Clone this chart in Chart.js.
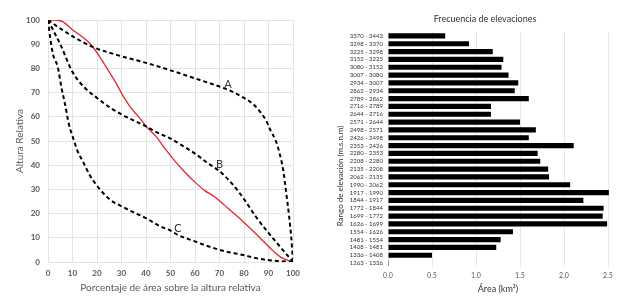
<!DOCTYPE html>
<html><head><meta charset="utf-8">
<script src="https://cdn.jsdelivr.net/npm/chart.js@4"></script>
<style>
html,body{margin:0;padding:0;background:#fff;overflow:hidden;}
#l{position:absolute;left:0;top:0;width:312px;height:307px;}
#r{position:absolute;left:320px;top:0;width:304px;height:307px;}
</style></head><body>
<div id="l"><canvas id="c1"></canvas></div>
<div id="r"><canvas id="c2"></canvas></div>
<script>
// ---- Left chart data (hypsometric curves) ----
const curveA = [[0,100],[5,96.5],[10,93.3],[18,89],[30,85],[41,82],[50,79.2],[62,75.2],[70,72.5],[75,70.5],[80,67.8],[84,65],[87,61.5],[89,58.5],[91,54],[93,50],[94.5,45],[96,38],[97.3,28],[98.4,19],[99.3,10],[100,0]];
const curveB = [[0,100],[2.5,95],[5,90],[10,78.5],[15,72],[20,67.8],[25,64],[30,61],[40,56],[45,53.3],[50,51],[55,48],[60,44.8],[65,41],[70,37.5],[75,32.5],[80,26],[85,18.5],[90,12],[95,6],[100,0]];
const curveC = [[0,100],[1,92],[2,86],[4,80.5],[5.5,72],[7,65],[8.5,57],[10.5,50.5],[12,46],[14.3,41.4],[17,36],[19.8,31.8],[25,26],[29.3,23.4],[35,20.5],[40.2,18],[45.6,14.8],[50,13],[53,11.2],[60,8.5],[66,6.3],[72,4.5],[79.6,2.9],[85,1.6],[90.5,0.7],[95,0.3],[100,0]];
const curveObs = [[0,100],[3,100],[6,99.3],[10,96],[14,93],[17,90.4],[21,85],[25,78.5],[28,73.5],[31,68],[34,63.5],[37,60],[41,55],[44,52],[48,46.5],[52,41.5],[56,37],[60,33],[64,29.5],[68,27],[72,23.5],[76,20],[80,16.3],[84,12.5],[88,8.5],[92,4.5],[95,2],[100,0]];
const curveLabels = ["A","B","C"];
const curveLabelAt = [[73.5,73.5],[70,40.3],[53,14]];
const pctTicks = [0,10,20,30,40,50,60,70,80,90,100];

// ---- Right chart data (elevation frequency) ----
const elevRanges = ["3370 - 3443","3298 - 3370","3225 - 3298","3152 - 3225","3080 - 3152","3007 - 3080","2934 - 3007","2862 - 2934","2789 - 2862","2716 - 2789","2644 - 2716","2571 - 2644","2498 - 2571","2426 - 2498","2353 - 2426","2280 - 2353","2208 - 2280","2135 - 2208","2062 - 2135","1990 - 2062","1917 - 1990","1844 - 1917","1772 - 1844","1699 - 1772","1626 - 1699","1554 - 1626","1481 - 1554","1408 - 1481","1336 - 1408","1263 - 1336"];
const elevArea = [0.65,0.92,1.19,1.31,1.29,1.37,1.48,1.44,1.60,1.17,1.17,1.50,1.68,1.60,2.11,1.70,1.73,1.82,1.83,2.07,2.51,2.22,2.45,2.44,2.49,1.42,1.28,1.23,0.50,0.01];
const areaTicks = [0,0.5,1,1.5,2,2.5];

const FONT = "Lato, 'Open Sans', sans-serif";
const toXY = a => a.map(p => ({x:p[0], y:p[1]}));

const labelPlugin = {
  id:'curveLabels',
  afterDatasetsDraw(chart){
    const {ctx, scales:{x,y}} = chart;
    ctx.save();
    ctx.font = "11px " + FONT;
    ctx.fillStyle = "#333";
    ctx.textAlign = "center"; ctx.textBaseline = "middle";
    curveLabels.forEach((t,i)=>{
      ctx.fillText(t, x.getPixelForValue(curveLabelAt[i][0]), y.getPixelForValue(curveLabelAt[i][1]));
    });
    ctx.restore();
  }
};

const dashed = {borderColor:'#000', borderWidth:2, borderDash:[4,3], pointRadius:0, showLine:true, cubicInterpolationMode:'monotone', fill:false};

new Chart(document.getElementById('c1'), {
  type:'scatter',
  data:{datasets:[
    Object.assign({label:'A', data:toXY(curveA)}, dashed),
    Object.assign({label:'B', data:toXY(curveB)}, dashed),
    Object.assign({label:'C', data:toXY(curveC)}, dashed),
    {label:'Curva', data:toXY(curveObs), borderColor:'#e0262f', borderWidth:1.3, pointRadius:0, showLine:true, cubicInterpolationMode:'monotone', fill:false}
  ]},
  options:{
    responsive:true, maintainAspectRatio:false, animation:false,
    layout:{padding:{left:14, right:19, top:20, bottom:13}},
    plugins:{legend:{display:false}, tooltip:{enabled:false}},
    scales:{
      x:{type:'linear', min:0, max:100,
        afterBuildTicks(s){ s.ticks = pctTicks.map(v=>({value:v})); },
        afterFit(s){ s.height = 32; },
        grid:{color:'#e4e4e4', drawTicks:false, lineWidth:1},
        border:{display:false},
        ticks:{color:'#595959', font:{family:FONT, size:8, weight:'bold'}, padding:7, maxRotation:0},
        title:{display:true, text:'Porcentaje de área sobre la altura relativa', color:'#595959', font:{family:FONT, size:10}, padding:0}
      },
      y:{type:'linear', min:0, max:100,
        afterBuildTicks(s){ s.ticks = pctTicks.map(v=>({value:v})); },
        afterFit(s){ s.width = 34; },
        grid:{color:'#e4e4e4', drawTicks:false, lineWidth:1},
        border:{display:false},
        ticks:{color:'#595959', font:{family:FONT, size:8, weight:'bold'}, padding:8},
        title:{display:true, text:'Altura Relativa', color:'#595959', font:{family:FONT, size:10}, padding:0}
      }
    }
  },
  plugins:[labelPlugin]
});

const textPlugin = {
  id:'extraTexts',
  afterDraw(chart){
    const {ctx, chartArea} = chart;
    ctx.save();
    ctx.fillStyle = '#333';
    ctx.textAlign = 'center'; ctx.textBaseline = 'middle';
    ctx.font = "9px " + FONT;
    ctx.fillText('Frecuencia de elevaciones', 165, 19);
    ctx.translate(20, 176); ctx.rotate(-Math.PI/2);
    ctx.font = "8px " + FONT;
    ctx.fillText('Rango de elevación (m.s.n.m)', 0, 0);
    ctx.restore();
  }
};

new Chart(document.getElementById('c2'), {
  type:'bar',
  data:{labels:elevRanges, datasets:[{label:'Área', data:elevArea, backgroundColor:'#000', borderWidth:0, barPercentage:0.66, categoryPercentage:1, clip:false}]},
  options:{
    indexAxis:'y', responsive:true, maintainAspectRatio:false, animation:false,
    layout:{padding:{left:14, right:16, top:32, bottom:13}},
    plugins:{legend:{display:false}, tooltip:{enabled:false}},
    scales:{
      x:{type:'linear', min:0, max:2.5,
        afterBuildTicks(s){ s.ticks = areaTicks.map(v=>({value:v})); },
        afterFit(s){ s.height = 27; },
        grid:{color:'#e8e8e8', drawTicks:false},
        border:{display:false},
        ticks:{color:'#595959', font:{family:FONT, size:7}, padding:5, callback:v=>Number(v).toFixed(1)},
        title:{display:true, text:'Área (km²)', color:'#333', font:{family:FONT, size:9}, padding:0}
      },
      y:{
        afterFit(s){ s.width = 54; },
        grid:{display:false, drawTicks:false},
        border:{display:false},
        ticks:{color:'#333', font:{family:FONT, size:6}, padding:5, autoSkip:false}
      }
    }
  },
  plugins:[textPlugin]
});
</script>
</body></html>
